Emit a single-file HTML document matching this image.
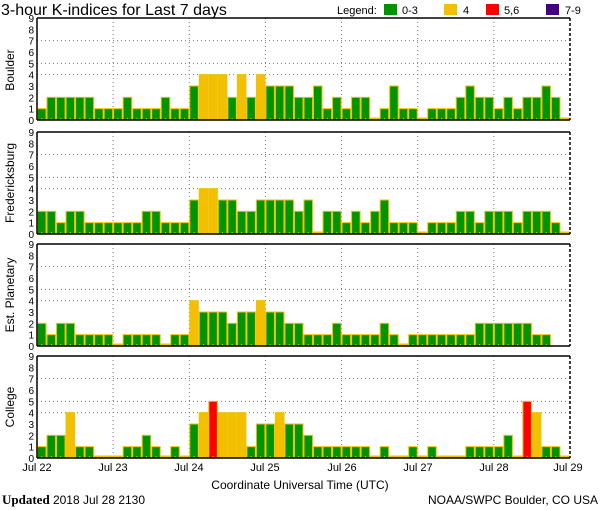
<!DOCTYPE html>
<html><head><meta charset="utf-8"><style>
body{margin:0;background:#fff;}
svg{display:block;font-family:"Liberation Sans",sans-serif;}
</style></head><body>
<svg id="s" width="600" height="510" viewBox="0 0 600 510" xmlns="http://www.w3.org/2000/svg">
<rect width="600" height="510" fill="#fff"/>
<text x="1" y="15" font-size="16" fill="#000">3-hour K-indices for Last 7 days</text>
<text x="337" y="14" font-size="11">Legend:</text>
<rect x="384" y="4" width="13" height="11" fill="#009400"/><text x="402" y="14" font-size="11">0-3</text>
<rect x="444" y="4" width="13" height="11" fill="#f2c000"/><text x="463" y="14" font-size="11">4</text>
<rect x="486" y="4" width="13" height="11" fill="#ff0000"/><text x="504" y="14" font-size="11">5,6</text>
<rect x="546" y="4" width="13" height="11" fill="#400080"/><text x="565" y="14" font-size="11">7-9</text>
<g font-size="12" text-anchor="middle">
<text transform="translate(14,70) rotate(-90)">Boulder</text>
<text transform="translate(14,183) rotate(-90)">Fredericksburg</text>
<text transform="translate(14,295) rotate(-90)">Est. Planetary</text>
<text transform="translate(14,407) rotate(-90)">College</text>
</g>
<g id="ylab" font-size="10" text-anchor="end"></g>
<g id="bars"></g>
<g font-size="11" text-anchor="middle">
<text x="37" y="471">Jul 22</text><text x="113" y="471">Jul 23</text><text x="189" y="471">Jul 24</text><text x="265" y="471">Jul 25</text><text x="342" y="471">Jul 26</text><text x="418" y="471">Jul 27</text><text x="494" y="471">Jul 28</text><text x="568" y="471">Jul 29</text>
<text x="300" y="489" font-size="12">Coordinate Universal Time (UTC)</text>
</g>
<text x="2" y="504" font-size="13" font-family="Liberation Serif,serif"><tspan font-weight="bold">Updated</tspan> <tspan font-family="Liberation Sans,sans-serif" font-size="12">2018 Jul 28 2130</tspan></text>
<text x="598" y="504" font-size="12" text-anchor="end">NOAA/SWPC Boulder, CO USA</text>
</svg>
<script>
var D=[
[1,2,2,2,2,2,1,1, 1,2,1,1,1,2,1,1, 3,4,4,4,2,4,2,4, 3,3,3,2,2,3,1,2, 1,2,2,0,1,3,1,1, 0,1,1,1,2,3,2,2, 1,2,1,2,2,3,2,0],
[2,2,1,2,2,1,1,1, 1,1,1,2,2,1,1,1, 3,4,4,3,3,2,2,3, 3,3,3,2,3,0,2,2, 1,2,1,2,3,1,1,1, 0,1,1,1,2,2,1,2, 2,2,1,2,2,2,1,0],
[2,1,2,2,1,1,1,1, 0,1,1,1,1,0,1,1, 4,3,3,3,2,3,3,4, 3,3,2,2,1,1,1,2, 1,1,1,1,2,1,0,1, 1,1,1,1,1,1,2,2, 2,2,2,2,1,1,-1,-1],
[1,2,2,4,1,1,0,0, 0,1,1,2,1,0,1,0, 3,4,5,4,4,4,1,3, 3,4,3,3,2,1,1,1, 1,1,1,0,1,0,0,1, 0,1,0,0,0,1,1,1, 1,2,0,5,4,1,1,0]];
var tops=[18,132,244,356],H=102,L=37,R=570,W=(R-L)/56,u=H/9;
var ns="http://www.w3.org/2000/svg",s="",y="";
function col(v){return v<=3?"#009400":v==4?"#f2c000":v<=6?"#ff0000":"#400080";}
for(var p=0;p<4;p++){var t=tops[p],b=t+H;
 [7,5,4].forEach(function(v){var yy=b-v*u;s+='<line x1="'+L+'" x2="'+R+'" y1="'+yy+'" y2="'+yy+'" stroke="#777" stroke-dasharray="1,3"/>';});
 for(var k=1;k<7;k++){var xx=L+k*W*8;s+='<line x1="'+xx+'" x2="'+xx+'" y1="'+t+'" y2="'+b+'" stroke="#777" stroke-dasharray="1,3"/>';}
 for(var i=0;i<56;i++){var v=D[p][i];if(v<0)continue;var x=L+i*W,h=v==0?2:v*u;
  s+='<rect x="'+(x+0.5)+'" y="'+(b-h)+'" width="'+(W-1)+'" height="'+h+'" fill="'+(v==0?"#f2c000":col(v))+'" stroke="#f2c000" stroke-width="1"/>';
  s+='<rect x="'+(x+W/2-0.5)+'" y="'+(b-2)+'" width="1" height="2" fill="#f2c000"/>';}
 s+='<line x1="'+L+'" x2="'+R+'" y1="'+t+'" y2="'+t+'" stroke="#000" stroke-width="1.5"/>';
 s+='<line x1="'+L+'" x2="'+R+'" y1="'+b+'" y2="'+b+'" stroke="#000" stroke-width="1.5"/>';
 s+='<line x1="'+L+'" x2="'+L+'" y1="'+t+'" y2="'+b+'" stroke="#000" stroke-width="1.5"/>';
 s+='<line x1="'+R+'" x2="'+R+'" y1="'+t+'" y2="'+b+'" stroke="#000" stroke-width="1.5" stroke-dasharray="3,2"/>';
 for(var v=0;v<=9;v++)y+='<text x="34" y="'+(b-v*u+4)+'">'+v+'</text>';
}
document.getElementById("bars").innerHTML=s;
document.getElementById("ylab").innerHTML=y;
</script>
</body></html>
